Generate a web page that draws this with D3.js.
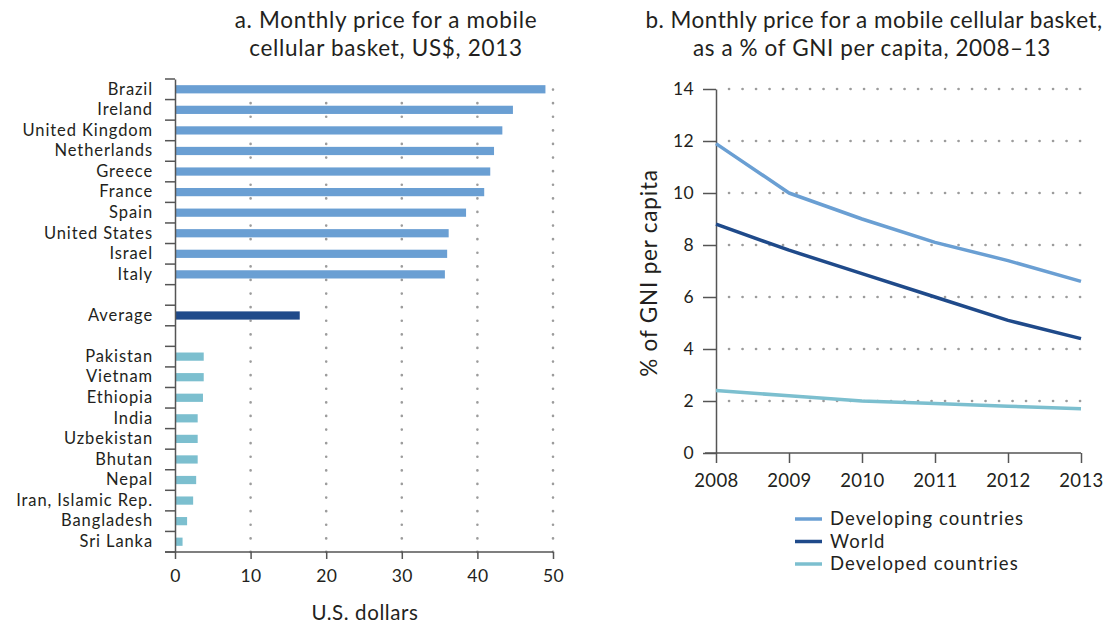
<!DOCTYPE html>
<html><head><meta charset="utf-8">
<script src="https://cdn.jsdelivr.net/npm/d3@7"></script>
<style>
body{margin:0;background:#fff;}
text{font-family:Lato,"Noto Sans",sans-serif;fill:#231f20;}
</style></head>
<body><svg id="c" width="1115" height="625"></svg>
<script>
// ---------- Data ----------
const highCountries = ["Brazil","Ireland","United Kingdom","Netherlands","Greece","France","Spain","United States","Israel","Italy"];
const highValues = [49.0,44.7,43.3,42.2,41.7,40.9,38.5,36.2,36.0,35.7];
const avgLabel = "Average";
const avgValue = 16.5;
const lowCountries = ["Pakistan","Vietnam","Ethiopia","India","Uzbekistan","Bhutan","Nepal","Iran, Islamic Rep.","Bangladesh","Sri Lanka"];
const lowValues = [3.8,3.8,3.7,3.0,3.0,3.0,2.8,2.4,1.6,1.0];
const barTicks = [0,10,20,30,40,50];

const years = [2008,2009,2010,2011,2012,2013];
const developing = [11.9,10.0,9.0,8.1,7.4,6.6];
const world = [8.8,7.8,6.9,6.0,5.1,4.4];
const developed = [2.4,2.2,2.0,1.9,1.8,1.7];
const lineTicks = [0,2,4,6,8,10,12,14];
const seriesNames = ["Developing countries","World","Developed countries"];

const colHigh = "#6a9fd3", colAvg = "#1f4a8a", colLow = "#7cbfcf";
const lineCols = ["#6a9fd3","#1f4a8a","#7cbfcf"];
const axisCol = "#555";
const gridCol = "#9c9c9c";

const svg = d3.select("#c");

// ---------- Panel a ----------
const rows = [...highCountries, "_g1", avgLabel, "_g2", ...lowCountries];
const barData = [
  ...highCountries.map((c,i)=>({c, v:highValues[i], col:colHigh})),
  {c:avgLabel, v:avgValue, col:colAvg},
  ...lowCountries.map((c,i)=>({c, v:lowValues[i], col:colLow}))
];
const xA = d3.scaleLinear().domain([0,50]).range([175,553]);
const yA = d3.scaleBand().domain(rows).range([79,552]).paddingInner(0.6).paddingOuter(0.3);
const gA = svg.append("g");

// grid
gA.selectAll(".gx").data(barTicks.filter(d=>d>0)).join("line")
  .attr("x1",d=>xA(d)).attr("x2",d=>xA(d)).attr("y1",552).attr("y2",80)
  .attr("stroke",gridCol).attr("stroke-width",2.6).attr("stroke-linecap","round")
  .attr("stroke-dasharray","0.1,13.5");

// bars
gA.selectAll(".bar").data(barData).join("rect")
  .attr("x",xA(0)).attr("y",d=>yA(d.c)).attr("width",d=>xA(d.v)-xA(0))
  .attr("height",yA.bandwidth()).attr("fill",d=>d.col);

// y axis
const yAx = gA.append("g").attr("transform",`translate(${xA(0)},0)`)
  .call(d3.axisLeft(yA).tickSize(0).tickPadding(22).tickFormat(d=>d.startsWith("_")?"":d));
yAx.select(".domain").attr("stroke",axisCol).attr("stroke-width",1.5);
yAx.selectAll("text").attr("font-size",16.5).attr("letter-spacing","0.9px").attr("fill","#231f20");
const step = yA.step();
const boundaries = rows.map(r=>yA(r)-(step-yA.bandwidth())/2).concat([552]);
gA.selectAll(".yt").data(boundaries).join("line")
  .attr("x1",165).attr("x2",xA(0)).attr("y1",d=>d).attr("y2",d=>d)
  .attr("stroke",axisCol).attr("stroke-width",1.5);

// x axis
const xAx = gA.append("g").attr("transform","translate(0,552)")
  .call(d3.axisBottom(xA).tickValues(barTicks).tickSize(7).tickPadding(11).tickSizeOuter(0));
xAx.select(".domain").attr("stroke",axisCol).attr("stroke-width",1.5).attr("d","M165,0H553");
xAx.selectAll(".tick line").attr("stroke",axisCol).attr("stroke-width",1.5);
xAx.selectAll("text").attr("font-size",17.5).attr("letter-spacing","0.4px").attr("fill","#231f20");

gA.append("text").attr("x",365).attr("y",620).attr("text-anchor","middle").attr("font-size",20.5).attr("letter-spacing","0.6px").text("U.S. dollars");
gA.append("text").attr("x",386).attr("y",28).attr("text-anchor","middle").attr("font-size",22.5).attr("letter-spacing","0.7px").text("a. Monthly price for a mobile");
gA.append("text").attr("x",386).attr("y",56).attr("text-anchor","middle").attr("font-size",22.5).attr("letter-spacing","0.7px").text("cellular basket, US$, 2013");

// ---------- Panel b ----------
const xB = d3.scalePoint().domain(years).range([716,1081]);
const yB = d3.scaleLinear().domain([0,14]).range([453,89]);
const gB = svg.append("g");

gB.selectAll(".gy").data(lineTicks.filter(d=>d>0)).join("line")
  .attr("x1",729).attr("x2",1081).attr("y1",d=>yB(d)).attr("y2",d=>yB(d))
  .attr("stroke",gridCol).attr("stroke-width",2.6).attr("stroke-linecap","round")
  .attr("stroke-dasharray","0.1,13.4");

const yBx = gB.append("g").attr("transform","translate(716,0)")
  .call(d3.axisLeft(yB).tickValues(lineTicks).tickSize(13).tickPadding(9).tickSizeOuter(0));
yBx.select(".domain").attr("stroke",axisCol).attr("stroke-width",1.5);
yBx.selectAll(".tick line").attr("stroke",axisCol).attr("stroke-width",1.5);
yBx.selectAll("text").attr("font-size",17.5).attr("letter-spacing","0.4px").attr("fill","#231f20");

const xBx = gB.append("g").attr("transform","translate(0,453)")
  .call(d3.axisBottom(xB).tickSize(10).tickPadding(11).tickSizeOuter(0));
xBx.select(".domain").attr("stroke",axisCol).attr("stroke-width",1.5).attr("d","M705,0H1081");
xBx.selectAll(".tick line").attr("stroke",axisCol).attr("stroke-width",1.5);
xBx.selectAll("text").attr("font-size",18.5).attr("letter-spacing","0.4px").attr("fill","#231f20");

const series = [developing, world, developed];
const line = d3.line().x((d,i)=>xB(years[i])).y(d=>yB(d));
gB.selectAll(".ln").data(series).join("path")
  .attr("d",line).attr("fill","none").attr("stroke",(d,i)=>lineCols[i])
  .attr("stroke-width",3.5).attr("stroke-linejoin","round");

gB.append("text").attr("transform","translate(657,273) rotate(-90)")
  .attr("text-anchor","middle").attr("font-size",22.5).attr("letter-spacing","0.8px").text("% of GNI per capita");

gB.append("text").attr("x",874).attr("y",28).attr("text-anchor","middle").attr("font-size",22.5).attr("letter-spacing","0.5px").text("b. Monthly price for a mobile cellular basket,");
gB.append("text").attr("x",872).attr("y",56).attr("text-anchor","middle").attr("font-size",22.5).attr("letter-spacing","0.6px").text("as a % of GNI per capita, 2008–13");

// legend
const lg = gB.append("g");
seriesNames.forEach((n,i)=>{
  const y = 519 + i*22.5;
  lg.append("line").attr("x1",795).attr("x2",822).attr("y1",y).attr("y2",y)
    .attr("stroke",lineCols[i]).attr("stroke-width",3.5);
  lg.append("text").attr("x",830).attr("y",y).attr("dy","0.35em").attr("font-size",18.5).attr("letter-spacing","1.1px").text(n);
});
</script></body></html>
